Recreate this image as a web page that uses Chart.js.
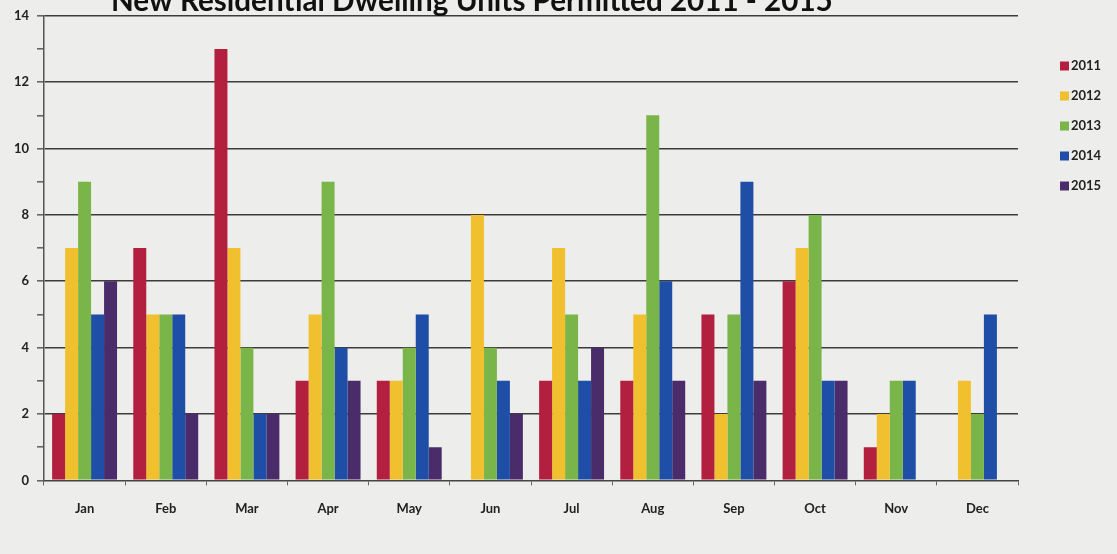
<!DOCTYPE html>
<html>
<head>
<meta charset="utf-8">
<script src="https://cdn.jsdelivr.net/npm/chart.js@4.4.1/dist/chart.umd.min.js"></script>
<style>
  html, body { margin: 0; padding: 0; background: #ededeb; }
  #wrap { width: 1117px; height: 554px; position: relative; }
</style>
</head>
<body>
<div id="wrap"><canvas id="myChart"></canvas></div>
<script>
// data
var months = ['Jan', 'Feb', 'Mar', 'Apr', 'May', 'Jun', 'Jul', 'Aug', 'Sep', 'Oct', 'Nov', 'Dec'];
var years = ['2011', '2012', '2013', '2014', '2015'];
var units2011 = [2, 7, 13, 3, 3, 0, 3, 3, 5, 6, 1, 0];
var units2012 = [7, 5, 7, 5, 3, 8, 7, 5, 2, 7, 2, 3];
var units2013 = [9, 5, 4, 9, 4, 4, 5, 11, 5, 8, 3, 2];
var units2014 = [5, 5, 2, 4, 5, 3, 3, 6, 9, 3, 3, 5];
var units2015 = [6, 2, 2, 3, 1, 2, 4, 3, 3, 3, 0, 0];
var yTicks = [0, 2, 4, 6, 8, 10, 12, 14];
var titleText = 'New Residential Dwelling Units Permitted 2011 - 2015';

var colors = ['#b3203f', '#f0c02e', '#79b548', '#1e4ea6', '#4a2c6a'];
var series = [units2011, units2012, units2013, units2014, units2015];

Chart.defaults.font.family = 'Lato, "Open Sans", sans-serif';

// title sits half cut off at the top of the scan
var titlePlugin = {
  id: 'cutTitle',
  afterDraw: function (chart) {
    var c = chart.ctx;
    c.save();
    c.font = 'bold 100px Lato';
    var w = c.measureText(titleText).width;
    var size = 100 * 722 / w;
    c.font = 'bold ' + size + 'px Lato';
    c.fillStyle = '#111';
    c.textBaseline = 'alphabetic';
    c.fillText(titleText, 111, 11);
    c.restore();
  }
};

var legendPlugin = {
  id: 'sideLegend',
  afterDraw: function (chart) {
    var c = chart.ctx;
    c.save();
    c.font = 'bold 13px Lato';
    c.textBaseline = 'middle';
    chart.data.datasets.forEach(function (ds, i) {
      var y = 66 + i * 30;
      c.fillStyle = ds.backgroundColor;
      c.fillRect(1060, y - 4.5, 9, 9);
      c.fillStyle = '#222';
      c.fillText(ds.label, 1071, y);
    });
    c.restore();
  }
};

var ctx = document.getElementById('myChart');

var myChart = new Chart(ctx, {
  type: 'bar',
  data: {
    labels: months,
    datasets: years.map(function (y, i) {
      return {
        label: y,
        data: series[i],
        backgroundColor: colors[i],
        borderWidth: 0,
        categoryPercentage: 0.8,
        barPercentage: 1
      };
    })
  },
  options: {
    responsive: true,
    maintainAspectRatio: false,
    animation: false,
    layout: { padding: { top: 14, right: 99, left: 0, bottom: 21 } },
    plugins: {
      legend: { display: false },
      title: { display: false },
      tooltip: { enabled: false }
    },
    scales: {
      x: {
        offset: true,
        border: { color: '#444', width: 1.5 },
        grid: { offset: true, drawOnChartArea: false, tickLength: 5, color: '#666' },
        ticks: { color: '#222', font: { size: 13, weight: 'bold' }, padding: 16 }
      },
      y: {
        min: 0,
        max: 14,
        afterFit: function (axis) { axis.width = 44; },
        afterBuildTicks: function (axis) {
          var t = [];
          for (var v = 0; v <= 14; v++) t.push({ value: v });
          axis.ticks = t;
        },
        border: { color: '#555', width: 1.5 },
        grid: {
          color: function (ctx) {
            return yTicks.indexOf(ctx.tick.value) >= 0 && ctx.tick.value > 0 ? '#3c3c3c' : 'rgba(0,0,0,0)';
          },
          tickColor: '#666',
          lineWidth: 1.6,
          tickLength: 7
        },
        ticks: {
          color: '#222',
          font: { size: 13, weight: 'bold' },
          padding: 8,
          callback: function (v) { return yTicks.indexOf(v) >= 0 ? v : ''; }
        }
      }
    }
  },
  plugins: [titlePlugin, legendPlugin]
});
</script>
</body>
</html>
